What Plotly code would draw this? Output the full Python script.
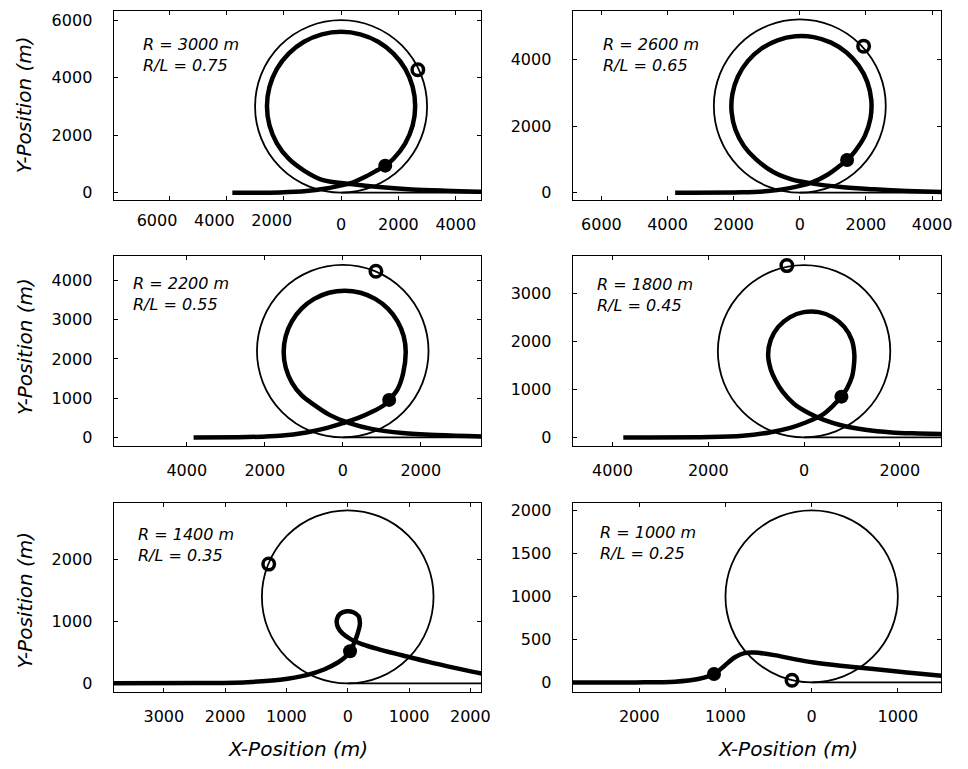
import plotly.graph_objects as go

# ---------------- data ----------------
R_values = [3000, 2600, 2200, 1800, 1400, 1000]
RL_values = [0.75, 0.65, 0.55, 0.45, 0.35, 0.25]

traj1_x = [-3792, -2126, -1206, -517, 57, 345, 862, 1264, 1540, 1828, 2239, 2497, 2585, 2497, 2239, 1828, 1293, 669, 0,
           -669, -1293, -1828, -2239, -2497, -2585, -2497, -2239, -1828, -1293, -632, 345, 1321, 2470, 3619, 4791, 5500]
traj1_y = [0, 11, 57, 149, 264, 333, 560, 780, 940, 1182, 1718, 2341, 3010, 3679, 4303, 4838, 5249, 5507, 5595,
           5507, 5249, 4838, 4303, 3679, 3010, 2341, 1718, 1182, 771, 437, 299, 195, 115, 69, 34, 25]

traj2_x = [-3770, -1750, -950, -350, 350, 850, 1200, 1430, 1674, 1971, 2138, 2162, 2043, 1786, 1413, 947, 419, -134,
           -675, -1167, -1574, -1871, -2038, -2062, -1943, -1686, -1313, -800, -250, 350, 1250, 2250, 3250, 4300, 5000]
traj2_y = [0, 10, 50, 129, 299, 547, 800, 980, 1250, 1712, 2235, 2783, 3318, 3805, 4209, 4503, 4669, 4692,
           4574, 4320, 3950, 3488, 2965, 2417, 1882, 1395, 991, 620, 400, 279, 169, 100, 50, 20, 12]

traj3_x = [-3825, -2465, -1615, -935, -425, 0, 383, 765, 1063, 1190, 1403, 1547, 1615, 1562, 1405, 1157, 833,
           455, 50, -355, -733, -1057, -1305, -1462, -1515, -1462, -1305, -1057, -733, -340, 170, 765, 1530, 2380,
           3580, 4200]
traj3_y = [0, 8, 42, 127, 237, 364, 491, 660, 829, 956, 1226, 1632, 2180, 2584, 2960, 3283, 3531,
           3687, 3740, 3687, 3531, 3283, 2960, 2584, 2180, 1776, 1400, 1077, 829, 575, 364, 211, 110, 59,
           25, 18]

traj4_x = [-3774, -1967, -1277, -725, -311, 35, 380, 621, 780, 897, 1001, 1040, 1050, 996, 839, 600, 307, -7,
           -300, -539, -696, -750, -696, -600, -449, -207, 104, 414, 794, 1277, 1829, 2381, 2898, 3300]
traj4_y = [0, 7, 35, 104, 194, 312, 471, 679, 852, 1026, 1268, 1500, 1730, 2038, 2309, 2509, 2617, 2617,
           2509, 2309, 2038, 1730, 1422, 1200, 956, 700, 506, 367, 249, 159, 104, 83, 69, 62]

traj5_x = [-4200, -2443, -1638, -1101, -671, -376, -161, -38, 38, 107, 161, 199, 177, 91, -16, -124, -177, -161, -81,
           54, 242, 510, 886, 1316, 1745, 2180, 2500]
traj5_y = [0, 5, 21, 59, 134, 230, 338, 429, 520, 659, 804, 965, 1088, 1152, 1168, 1126, 1034, 911, 804,
           713, 632, 552, 456, 348, 252, 161, 110]

traj6_x = [-3100, -2047, -1586, -1317, -1133, -1010, -895, -780, -664, -434, -204, 27, 334, 718, 1102, 1505, 1800]
traj6_y = [0, 0, 8, 39, 97, 194, 290, 341, 348, 317, 271, 232, 194, 155, 116, 77, 50]

traj_x = [traj1_x, traj2_x, traj3_x, traj4_x, traj5_x, traj6_x]
traj_y = [traj1_y, traj2_y, traj3_y, traj4_y, traj5_y, traj6_y]

dot_x = [1540, 1430, 1190, 780, 38, -1133]
dot_y = [940, 980, 956, 852, 520, 97]
ring_x = [2677, 1930, 850, -359, -1289, -228]
ring_y = [4274, 4398, 4237, 3590, 1930, 26]

x_tickvals = [[-6000, -4000, -2000, 0, 2000, 4000],
              [-6000, -4000, -2000, 0, 2000, 4000],
              [-4000, -2000, 0, 2000],
              [-4000, -2000, 0, 2000],
              [-3000, -2000, -1000, 0, 1000, 2000],
              [-2000, -1000, 0, 1000]]
y_tickvals = [[0, 2000, 4000, 6000],
              [0, 2000, 4000],
              [0, 1000, 2000, 3000, 4000],
              [0, 1000, 2000, 3000],
              [0, 1000, 2000],
              [0, 500, 1000, 1500, 2000]]

x_title = "X-Position (m)"
y_title = "Y-Position (m)"

# ---------------- layout geometry ----------------
W, H = 968, 769
col_px = [(115, 487), (579.3, 952.3)]
row_px = [(9.3, 199.5), (255, 446.7), (503.3, 694)]
x_ranges = [(-7931, 4897), (-6868, 4285), (-5874, 3557), (-4830, 2869), (-3818, 2182), (-2772, 1506)]
y_ranges = [(-270, 6311), (-233, 5445), (-228, 4633), (-187, 3797), (-145, 2924), (-116, 2090)]
label_pos = [(143, 53), (608, 53), (133, 293.5), (602, 295), (138, 546), (604.5, 544)]
neg_label_shift = [-12, 0, 0, 0, 0, 0]   # px shift of the negative-side tick labels

FONT = "DejaVu Sans"


def px2x(p):
    return p / W


def px2y(p):
    return 1 - p / H


fig = go.Figure()
layout = dict(
    width=W, height=H,
    margin=dict(l=0, r=0, t=0, b=0),
    paper_bgcolor="white", plot_bgcolor="white",
    showlegend=False,
    font=dict(family=FONT, size=16, color="black"),
    shapes=[], annotations=[],
)

tickfont = dict(family=FONT, size=16, color="black")
extra_axis = 7

for i in range(6):
    r, c = divmod(i, 2)
    n = i + 1
    xa = "x" if n == 1 else f"x{n}"
    ya = "y" if n == 1 else f"y{n}"
    xkey = "xaxis" if n == 1 else f"xaxis{n}"
    ykey = "yaxis" if n == 1 else f"yaxis{n}"
    R = R_values[i]

    # thin track: circle + ground line exiting to the right
    layout["shapes"].append(dict(type="circle", xref=xa, yref=ya, x0=-R, x1=R, y0=0, y1=2 * R,
                                 line=dict(color="black", width=1.8), layer="above"))
    layout["shapes"].append(dict(type="line", xref=xa, yref=ya, x0=0, x1=x_ranges[i][1] * 2, y0=0, y1=0,
                                 line=dict(color="black", width=1.8), layer="above"))

    fig.add_trace(go.Scatter(x=traj_x[i], y=traj_y[i], mode="lines", xaxis=xa, yaxis=ya,
                             line=dict(color="black", width=4.5, shape="spline", smoothing=0.9),
                             hoverinfo="skip"))
    fig.add_trace(go.Scatter(x=[dot_x[i]], y=[dot_y[i]], mode="markers", xaxis=xa, yaxis=ya,
                             marker=dict(size=14, color="black", line=dict(width=0)), cliponaxis=False))
    fig.add_trace(go.Scatter(x=[ring_x[i]], y=[ring_y[i]], mode="markers", xaxis=xa, yaxis=ya,
                             marker=dict(size=11.5, color="white", line=dict(width=3.5, color="black")),
                             cliponaxis=False))

    shift = neg_label_shift[i]
    ticktext = [("" if (shift and v < 0) else f"{abs(v)}") for v in x_tickvals[i]]

    cx = col_px[c]
    ry = row_px[r]
    axis_common = dict(showline=True, linecolor="black", linewidth=1.3, mirror="ticks",
                       ticks="inside", ticklen=4, tickwidth=1, tickcolor="black",
                       showgrid=False, zeroline=False, tickfont=tickfont)
    layout[xkey] = dict(axis_common, domain=[px2x(cx[0]), px2x(cx[1])], range=list(x_ranges[i]),
                        anchor=ya, tickmode="array", tickvals=x_tickvals[i], ticktext=ticktext,
                        tickangle=0, ticklabelstandoff=9)
    layout[ykey] = dict(axis_common, domain=[px2y(ry[1]), px2y(ry[0])], range=list(y_ranges[i]),
                        anchor=xa, tickmode="array", tickvals=y_tickvals[i],
                        ticktext=[str(v) for v in y_tickvals[i]], ticklabelstandoff=17)

    if shift:
        # overlay axis carrying the shifted labels of the negative side
        neg_vals = [v for v in x_tickvals[i] if v < 0]
        okey = f"xaxis{extra_axis}"
        oref = f"x{extra_axis}"
        layout[okey] = dict(overlaying=xa, anchor=ya, side="bottom", range=list(x_ranges[i]),
                            showline=False, ticks="", showgrid=False, zeroline=False,
                            tickmode="array", tickvals=neg_vals, ticktext=[str(abs(v)) for v in neg_vals],
                            tickangle=0, ticklabelstandoff=9, ticklabelshift=shift, tickfont=tickfont)
        fig.add_trace(go.Scatter(x=[neg_vals[0]], y=[y_tickvals[i][0]], mode="markers", xaxis=oref, yaxis=ya,
                                 marker=dict(size=1, opacity=0), hoverinfo="skip"))
        extra_axis += 1

    lx, ly = label_pos[i]
    layout["annotations"].append(dict(
        text=f"<i>R = {R} m<br>R/L = {RL_values[i]:.2f}</i>",
        xref="paper", yref="paper", x=px2x(lx), y=px2y(ly), xanchor="left", yanchor="middle",
        align="left", showarrow=False, font=dict(family=FONT, size=16, color="black")))

# axis titles
for ypx in [103, 346, 601]:
    layout["annotations"].append(dict(
        text=f"<i>{y_title}</i>", xref="paper", yref="paper", x=px2x(25), y=px2y(ypx),
        xanchor="center", yanchor="middle", textangle=-90, showarrow=False,
        font=dict(family=FONT, size=20, color="black")))
for xpx in [301, 797]:
    layout["annotations"].append(dict(
        text=f"<i>{x_title}</i>", xref="paper", yref="paper", x=px2x(xpx), y=px2y(751),
        xanchor="center", yanchor="middle", showarrow=False,
        font=dict(family=FONT, size=20, color="black")))

fig.update_layout(**layout)
fig.write_html("out.html")
